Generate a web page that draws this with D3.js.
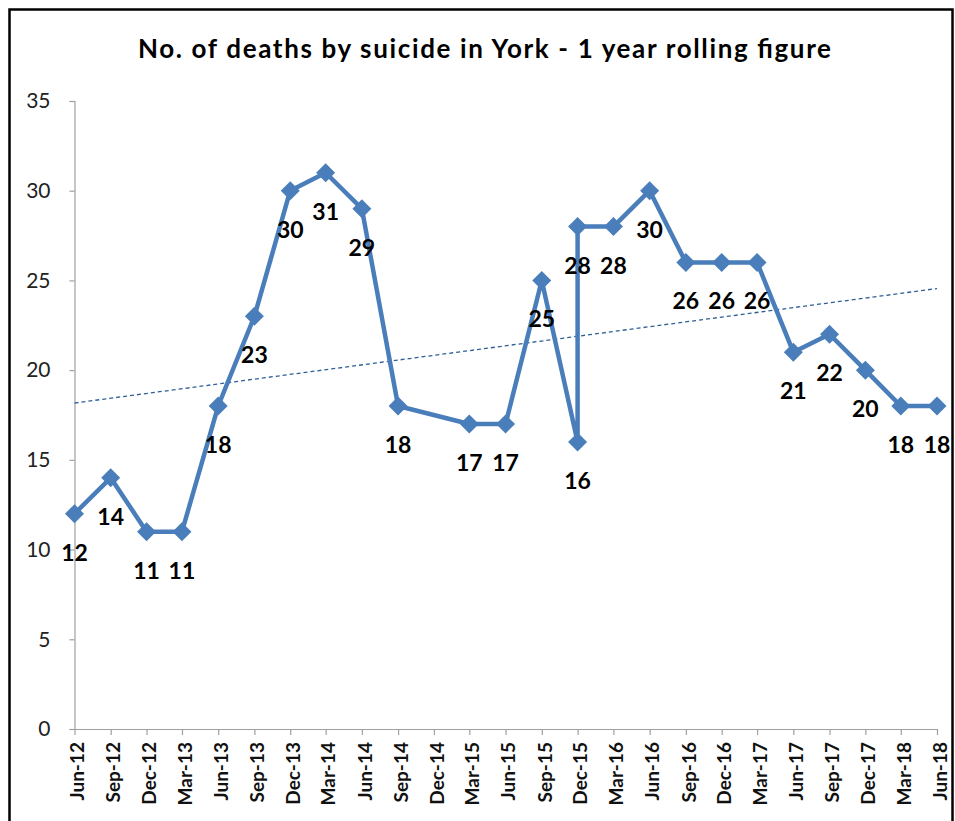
<!DOCTYPE html>
<html>
<head>
<meta charset="utf-8">
<script src="https://cdn.jsdelivr.net/npm/d3@7"></script>
<style>
  html, body { margin: 0; padding: 0; background: #fff; }
  svg { display: block; }
</style>
</head>
<body>
<svg id="chart" width="955" height="821"></svg>
<script>
// ---- data ----
const title = "No. of deaths by suicide in York - 1 year rolling figure";
const tickLabels = ["Jun-12","Sep-12","Dec-12","Mar-13","Jun-13","Sep-13","Dec-13","Mar-14","Jun-14","Sep-14","Dec-14","Mar-15","Jun-15","Sep-15","Dec-15","Mar-16","Jun-16","Sep-16","Dec-16","Mar-17","Jun-17","Sep-17","Dec-17","Mar-18","Jun-18"];
const pointDates = ["Jun-12","Sep-12","Dec-12","Mar-13","Jun-13","Sep-13","Dec-13","Mar-14","Jun-14","Sep-14","Mar-15","Jun-15","Sep-15","Dec-15","Dec-15","Mar-16","Jun-16","Sep-16","Dec-16","Mar-17","Jun-17","Sep-17","Dec-17","Mar-18","Jun-18"];
const deaths = [12,14,11,11,18,23,30,31,29,18,17,17,25,16,28,28,30,26,26,26,21,22,20,18,18];
const yTicks = [0,5,10,15,20,25,30,35];

// ---- setup ----
const parse = d3.timeParse("%b-%y");
const fmt = d3.timeFormat("%b-%y");
const tickDates = tickLabels.map(parse);
const pts = pointDates.map((d, i) => ({ date: parse(d), value: deaths[i] }));

const svg = d3.select("#chart");
const plotLeft = 74.5, plotRight = 937, plotTop = 101, plotBottom = 729;

const x = d3.scaleTime()
  .domain([tickDates[0], tickDates[tickDates.length - 1]])
  .range([plotLeft, plotRight]);
const y = d3.scaleLinear().domain([0, 35]).range([plotBottom, plotTop]);

const FONT = "Lato, 'Open Sans', 'DejaVu Sans', sans-serif";
const lineColor = "#4a7ebb";

// outer frame
svg.append("rect")
  .attr("x", 9.5).attr("y", 9.5)
  .attr("width", 943).attr("height", 840)
  .attr("fill", "#fff").attr("stroke", "#000").attr("stroke-width", 2.5);

// title
svg.append("text")
  .attr("x", 138).attr("y", 58)
  .attr("text-anchor", "start")
  .attr("font-family", FONT).attr("font-weight", "bold")
  .attr("font-size", 26).attr("fill", "#000")
  .attr("textLength", 693).attr("lengthAdjust", "spacing")
  .text(title);

// y axis
const yAxis = svg.append("g")
  .attr("transform", `translate(${plotLeft},0)`)
  .call(d3.axisLeft(y).tickValues(yTicks).tickSize(5).tickPadding(19));
yAxis.select(".domain").attr("stroke", "#a0a0a0").attr("stroke-width", 1.2);
yAxis.selectAll(".tick line").attr("stroke", "#a0a0a0").attr("stroke-width", 1.2);
yAxis.selectAll(".tick text")
  .attr("font-family", FONT).attr("font-size", 21).attr("fill", "#222");

// x axis
const xAxis = svg.append("g")
  .attr("transform", `translate(0,${plotBottom})`)
  .call(d3.axisBottom(x).tickValues(tickDates).tickFormat(fmt).tickSize(6).tickSizeOuter(0));
xAxis.select(".domain").attr("stroke", "#a0a0a0").attr("stroke-width", 1.2);
xAxis.selectAll(".tick line").attr("stroke", "#a0a0a0").attr("stroke-width", 1.2);
xAxis.selectAll(".tick text")
  .attr("font-family", FONT).attr("font-size", 19).attr("font-weight", "bold").attr("fill", "#111")
  .attr("text-anchor", "end")
  .attr("transform", "rotate(-90)")
  .attr("x", -13).attr("y", 2).attr("dy", "0.38em")
  .attr("dx", 0);

// trendline (linear least squares on dates)
const xs = pts.map(p => +p.date), ys = pts.map(p => p.value);
const mx = d3.mean(xs), my = d3.mean(ys);
const slope = d3.sum(xs.map((v, i) => (v - mx) * (ys[i] - my))) / d3.sum(xs.map(v => (v - mx) ** 2));
const icpt = my - slope * mx;
const t0 = tickDates[0], t1 = tickDates[tickDates.length - 1];
svg.append("line")
  .attr("x1", x(t0)).attr("y1", y(icpt + slope * +t0))
  .attr("x2", x(t1)).attr("y2", y(icpt + slope * +t1))
  .attr("stroke", "#2f5f96").attr("stroke-width", 1.3)
  .attr("stroke-dasharray", "4,3");

// line
svg.append("path")
  .datum(pts)
  .attr("fill", "none")
  .attr("stroke", lineColor).attr("stroke-width", 4.5)
  .attr("stroke-linejoin", "round")
  .attr("d", d3.line().x(d => x(d.date)).y(d => y(d.value)));

// markers
svg.append("g").selectAll("path")
  .data(pts).join("path")
  .attr("transform", d => `translate(${x(d.date)},${y(d.value)})`)
  .attr("d", "M0,-9.5L9.5,0L0,9.5L-9.5,0Z")
  .attr("fill", lineColor);

// data labels
svg.append("g").selectAll("text")
  .data(pts).join("text")
  .attr("x", d => x(d.date))
  .attr("y", d => y(d.value) + 47)
  .attr("text-anchor", "middle")
  .attr("font-family", FONT).attr("font-weight", "bold")
  .attr("font-size", 23).attr("fill", "#000")
  .text(d => d.value);
</script>
</body>
</html>
